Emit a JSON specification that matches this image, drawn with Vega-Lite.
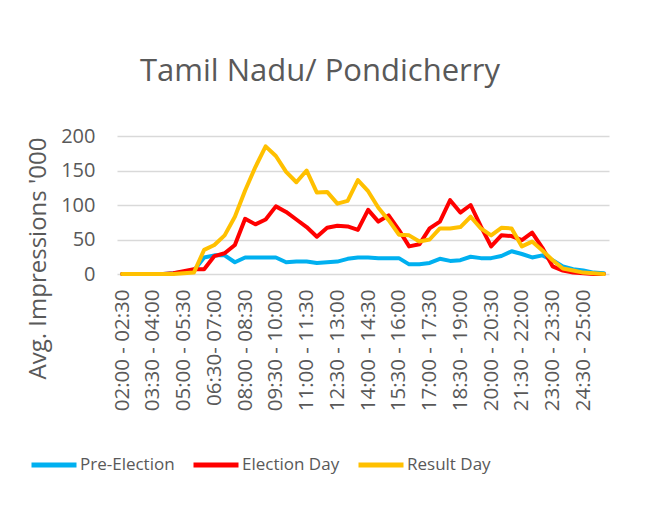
{
  "$schema": "https://vega.github.io/schema/vega-lite/v6.json",
  "autosize": {"type": "none"},
  "width": 492,
  "height": 138,
  "padding": {"left": 117, "top": 136, "right": 41, "bottom": 250},
  "background": "white",
  "title": {
    "text": "Tamil Nadu/ Pondicherry",
    "font": "Open Sans",
    "fontSize": 31,
    "fontWeight": "normal",
    "color": "#595959",
    "anchor": "middle",
    "frame": "group",
    "dx": -43,
    "offset": 38
  },
  "datasets": {
    "slots": [
      {"t": "02:00 - 02:30", "Pre-Election": 0, "Election Day": 0, "Result Day": 0},
      {"t": "02:30 - 03:00", "Pre-Election": 0, "Election Day": 0, "Result Day": 0},
      {"t": "03:00 - 03:30", "Pre-Election": 0, "Election Day": 0, "Result Day": 0},
      {"t": "03:30 - 04:00", "Pre-Election": 0, "Election Day": 0, "Result Day": 0},
      {"t": "04:00 - 04:30", "Pre-Election": 0, "Election Day": 0, "Result Day": 0},
      {"t": "04:30 - 05:00", "Pre-Election": 1, "Election Day": 1, "Result Day": 0},
      {"t": "05:00 - 05:30", "Pre-Election": 3, "Election Day": 4, "Result Day": 1},
      {"t": "05:30 - 06:00", "Pre-Election": 5, "Election Day": 7, "Result Day": 2},
      {"t": "06:00 - 06:30", "Pre-Election": 24, "Election Day": 7, "Result Day": 35},
      {"t": "06:30- 07:00", "Pre-Election": 27, "Election Day": 26, "Result Day": 42},
      {"t": "07:00 - 07:30", "Pre-Election": 27, "Election Day": 30, "Result Day": 56},
      {"t": "07:30 - 08:00", "Pre-Election": 17, "Election Day": 42, "Result Day": 83},
      {"t": "08:00 - 08:30", "Pre-Election": 24, "Election Day": 80, "Result Day": 121},
      {"t": "08:30 - 09:00", "Pre-Election": 24, "Election Day": 72, "Result Day": 155},
      {"t": "09:00 - 09:30", "Pre-Election": 24, "Election Day": 79, "Result Day": 185},
      {"t": "09:30 - 10:00", "Pre-Election": 24, "Election Day": 98, "Result Day": 171},
      {"t": "10:00 - 10:30", "Pre-Election": 17, "Election Day": 90, "Result Day": 148},
      {"t": "10:30 - 11:00", "Pre-Election": 18, "Election Day": 79, "Result Day": 133},
      {"t": "11:00 - 11:30", "Pre-Election": 18, "Election Day": 68, "Result Day": 150},
      {"t": "11:30 - 12:00", "Pre-Election": 16, "Election Day": 54, "Result Day": 118},
      {"t": "12:00 - 12:30", "Pre-Election": 17, "Election Day": 67, "Result Day": 119},
      {"t": "12:30 - 13:00", "Pre-Election": 18, "Election Day": 70, "Result Day": 102},
      {"t": "13:00 - 13:30", "Pre-Election": 22, "Election Day": 69, "Result Day": 106},
      {"t": "13:30 - 14:00", "Pre-Election": 24, "Election Day": 64, "Result Day": 136},
      {"t": "14:00 - 14:30", "Pre-Election": 24, "Election Day": 93, "Result Day": 120},
      {"t": "14:30 - 15:00", "Pre-Election": 23, "Election Day": 76, "Result Day": 96},
      {"t": "15:00 - 15:30", "Pre-Election": 23, "Election Day": 85, "Result Day": 78},
      {"t": "15:30 - 16:00", "Pre-Election": 23, "Election Day": 64, "Result Day": 57},
      {"t": "16:00 - 16:30", "Pre-Election": 14, "Election Day": 40, "Result Day": 56},
      {"t": "16:30 - 17:00", "Pre-Election": 14, "Election Day": 43, "Result Day": 47},
      {"t": "17:00 - 17:30", "Pre-Election": 16, "Election Day": 66, "Result Day": 50},
      {"t": "17:30 - 18:00", "Pre-Election": 22, "Election Day": 76, "Result Day": 66},
      {"t": "18:00 - 18:30", "Pre-Election": 19, "Election Day": 107, "Result Day": 66},
      {"t": "18:30 - 19:00", "Pre-Election": 20, "Election Day": 89, "Result Day": 68},
      {"t": "19:00 - 19:30", "Pre-Election": 25, "Election Day": 100, "Result Day": 83},
      {"t": "19:30 - 20:00", "Pre-Election": 23, "Election Day": 69, "Result Day": 66},
      {"t": "20:00 - 20:30", "Pre-Election": 23, "Election Day": 40, "Result Day": 56},
      {"t": "20:30 - 21:00", "Pre-Election": 26, "Election Day": 56, "Result Day": 67},
      {"t": "21:00 - 21:30", "Pre-Election": 33, "Election Day": 55, "Result Day": 66},
      {"t": "21:30 - 22:00", "Pre-Election": 29, "Election Day": 49, "Result Day": 40},
      {"t": "22:00 - 22:30", "Pre-Election": 24, "Election Day": 60, "Result Day": 47},
      {"t": "22:30 - 23:00", "Pre-Election": 27, "Election Day": 38, "Result Day": 34},
      {"t": "23:00 - 23:30", "Pre-Election": 20, "Election Day": 11, "Result Day": 20},
      {"t": "23:30 - 24:00", "Pre-Election": 11, "Election Day": 5, "Result Day": 8},
      {"t": "24:00 - 24:30", "Pre-Election": 7, "Election Day": 2, "Result Day": 5},
      {"t": "24:30 - 25:00", "Pre-Election": 5, "Election Day": 1, "Result Day": 2},
      {"t": "25:00 - 25:30", "Pre-Election": 2, "Election Day": 0, "Result Day": 1},
      {"t": "25:30 - 26:00", "Pre-Election": 1, "Election Day": 0, "Result Day": 0}
    ]
  },
  "data": {"name": "slots"},
  "transform": [
    {"fold": ["Pre-Election", "Election Day", "Result Day"], "as": ["series", "value"]}
  ],
  "mark": {"type": "line", "strokeWidth": 4, "strokeCap": "round", "strokeJoin": "round"},
  "encoding": {
    "x": {
      "field": "t",
      "type": "nominal",
      "sort": null,
      "scale": {"type": "point", "padding": 0.5},
      "axis": {
        "title": null,
        "values": ["02:00 - 02:30", "03:30 - 04:00", "05:00 - 05:30", "06:30- 07:00", "08:00 - 08:30", "09:30 - 10:00", "11:00 - 11:30", "12:30 - 13:00", "14:00 - 14:30", "15:30 - 16:00", "17:00 - 17:30", "18:30 - 19:00", "20:00 - 20:30", "21:30 - 22:00", "23:00 - 23:30", "24:30 - 25:00"],
        "labelAngle": -90,
        "labelAlign": "right",
        "labelBaseline": "middle",
        "labelFont": "Open Sans",
        "labelFontSize": 20.5,
        "labelColor": "#595959",
        "labelPadding": 15,
        "ticks": false,
        "domain": false,
        "grid": false
      }
    },
    "y": {
      "field": "value",
      "type": "quantitative",
      "scale": {"domain": [0, 200], "nice": false},
      "axis": {
        "title": "Avg. Impressions '000",
        "titleFont": "Open Sans",
        "titleFontSize": 24,
        "titleFontWeight": "normal",
        "titleColor": "#595959",
        "titleAngle": -90,
        "titleAlign": "center",
        "titleBaseline": "middle",
        "titleX": -79,
        "titleY": 122,
        "values": [0, 50, 100, 150, 200],
        "labelFont": "Open Sans",
        "labelFontSize": 20,
        "labelColor": "#595959",
        "labelPadding": 22,
        "ticks": false,
        "domain": false,
        "grid": true,
        "gridColor": "#D9D9D9",
        "gridWidth": 1.3
      }
    },
    "color": {
      "field": "series",
      "type": "nominal",
      "sort": ["Pre-Election", "Election Day", "Result Day"],
      "scale": {"domain": ["Pre-Election", "Election Day", "Result Day"], "range": ["#00B0F0", "#FF0000", "#FFC000"]},
      "legend": {
        "title": null,
        "orient": "none",
        "direction": "horizontal",
        "legendX": -88,
        "legendY": 304,
        "padding": 0,
        "symbolType": "stroke",
        "symbolSize": 2025,
        "symbolStrokeWidth": 5,
        "labelFont": "Open Sans",
        "labelFontSize": 17,
        "labelColor": "#595959",
        "labelOffset": 1,
        "columnPadding": 8
      }
    }
  },
  "config": {"view": {"stroke": null}}
}
